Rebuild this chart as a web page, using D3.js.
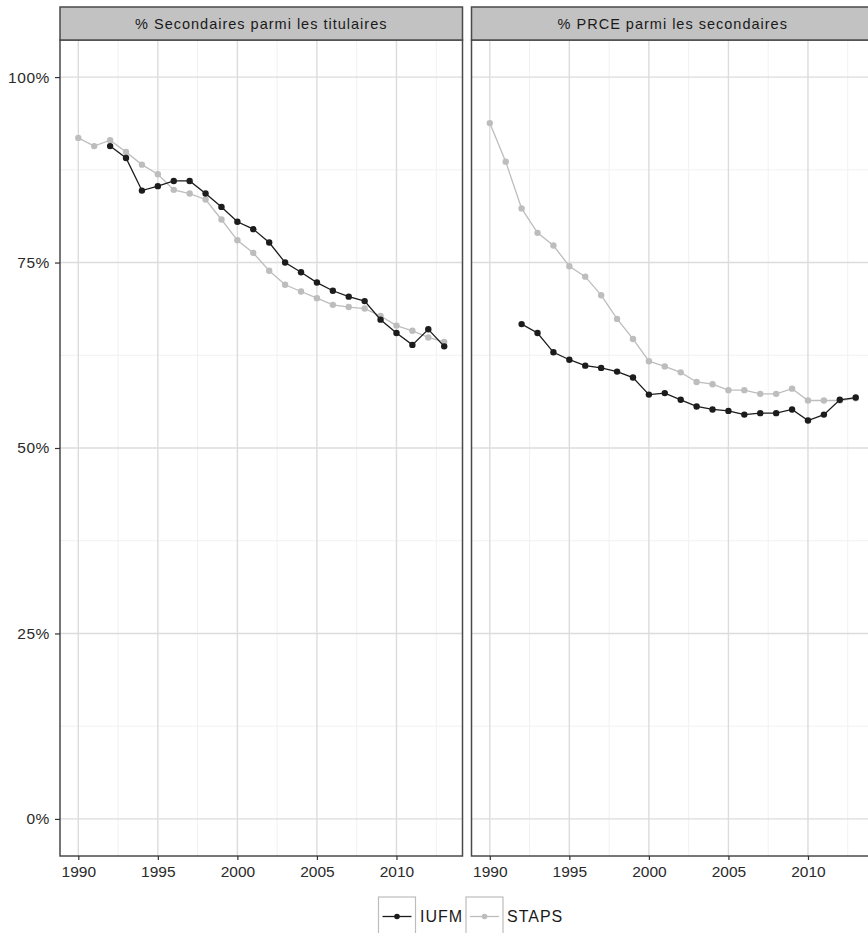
<!DOCTYPE html>
<html>
<head>
<meta charset="utf-8">
<script src="https://cdn.jsdelivr.net/npm/d3@7"></script>
<style>
  html, body { margin: 0; padding: 0; background: #fff; }
  svg { display: block; font-family: "Liberation Sans", Arial, sans-serif; }
</style>
</head>
<body>
<svg id="chart" width="868" height="933"></svg>
<script>
// Years covered by the series
const years = d3.range(1990, 2014);

// Panel titles
const panelTitles = ["% Secondaires parmi les titulaires", "% PRCE parmi les secondaires"];

// Series names
const seriesNames = ["IUFM", "STAPS"];

// Share of "secondaires" among tenured staff (1990..2013)
const secIUFM = [null, null, 0.907, 0.891, 0.847, 0.853, 0.860, 0.860, 0.843, 0.825, 0.805, 0.795,
                 0.777, 0.750, 0.737, 0.723, 0.712, 0.704, 0.698, 0.673, 0.655, 0.639, 0.660, 0.637];
const secSTAPS = [0.918, 0.907, 0.915, 0.899, 0.882, 0.869, 0.848, 0.843, 0.835, 0.808, 0.780, 0.763,
                  0.739, 0.720, 0.711, 0.702, 0.693, 0.690, 0.688, 0.678, 0.665, 0.658, 0.649, 0.643];

// Share of PRCE among "secondaires" (1990..2013)
const prceIUFM = [null, null, 0.667, 0.655, 0.629, 0.619, 0.611, 0.608, 0.603, 0.595, 0.572, 0.574,
                  0.565, 0.556, 0.552, 0.550, 0.545, 0.547, 0.547, 0.552, 0.537, 0.545, 0.565, 0.568];
const prceSTAPS = [0.938, 0.886, 0.823, 0.790, 0.773, 0.745, 0.731, 0.706, 0.674, 0.647, 0.617, 0.610,
                   0.602, 0.589, 0.586, 0.578, 0.578, 0.573, 0.573, 0.580, 0.564, 0.564, 0.564, 0.567];

// Axis ticks
const xTicks = [1990, 1995, 2000, 2005, 2010];
const xMinor = [1992.5, 1997.5, 2002.5, 2007.5, 2012.5];
const yTicks = [0, 0.25, 0.5, 0.75, 1];
const yMinor = [0.125, 0.375, 0.625, 0.875];

const colors = { IUFM: "#1c1c1c", STAPS: "#bdbdbd" };

const panels = [
  { title: panelTitles[0], series: { IUFM: secIUFM, STAPS: secSTAPS }, x0: 60, x1: 462.5 },
  { title: panelTitles[1], series: { IUFM: prceIUFM, STAPS: prceSTAPS }, x0: 471.5, x1: 874 }
];

const stripTop = 7, stripBottom = 40, panelBottom = 856;
const svg = d3.select("#chart");

const y = d3.scaleLinear().domain([-0.05, 1.05]).range([panelBottom, stripBottom]);
const fmtPct = d3.format(".0%");

panels.forEach((p, i) => {
  const x = d3.scaleLinear().domain([1988.85, 2014.15]).range([p.x0, p.x1]);
  const g = svg.append("g");

  // background
  g.append("rect").attr("x", p.x0).attr("y", stripBottom)
    .attr("width", p.x1 - p.x0).attr("height", panelBottom - stripBottom).attr("fill", "#fff");

  // minor grid
  g.selectAll(".xmin").data(xMinor).join("line")
    .attr("x1", d => x(d)).attr("x2", d => x(d))
    .attr("y1", stripBottom).attr("y2", panelBottom)
    .attr("stroke", "#f1f1f1").attr("stroke-width", 1);
  g.selectAll(".ymin").data(yMinor).join("line")
    .attr("x1", p.x0).attr("x2", p.x1)
    .attr("y1", d => y(d)).attr("y2", d => y(d))
    .attr("stroke", "#f1f1f1").attr("stroke-width", 1);

  // major grid
  g.selectAll(".xmaj").data(xTicks).join("line")
    .attr("x1", d => x(d)).attr("x2", d => x(d))
    .attr("y1", stripBottom).attr("y2", panelBottom)
    .attr("stroke", "#dcdcdc").attr("stroke-width", 1.4);
  g.selectAll(".ymaj").data(yTicks).join("line")
    .attr("x1", p.x0).attr("x2", p.x1)
    .attr("y1", d => y(d)).attr("y2", d => y(d))
    .attr("stroke", "#dcdcdc").attr("stroke-width", 1.4);

  // series: STAPS below, IUFM on top
  ["STAPS", "IUFM"].forEach(name => {
    const pts = years.map((yr, k) => ({ yr, v: p.series[name][k] })).filter(d => d.v != null);
    const line = d3.line().x(d => x(d.yr)).y(d => y(d.v));
    g.append("path").datum(pts).attr("d", line)
      .attr("fill", "none").attr("stroke", colors[name]).attr("stroke-width", 1.3);
    g.selectAll(null).data(pts).join("circle")
      .attr("cx", d => x(d.yr)).attr("cy", d => y(d.v)).attr("r", 3.2)
      .attr("fill", colors[name]);
  });

  // panel border
  g.append("rect").attr("x", p.x0).attr("y", stripBottom)
    .attr("width", p.x1 - p.x0).attr("height", panelBottom - stripBottom)
    .attr("fill", "none").attr("stroke", "#4a4a4a").attr("stroke-width", 1.5);

  // strip
  g.append("rect").attr("x", p.x0).attr("y", stripTop)
    .attr("width", p.x1 - p.x0).attr("height", stripBottom - stripTop)
    .attr("fill", "#c2c2c2").attr("stroke", "#4a4a4a").attr("stroke-width", 1.5);
  g.append("text").attr("x", (p.x0 + p.x1) / 2).attr("y", (stripTop + stripBottom) / 2)
    .attr("dy", "0.35em").attr("text-anchor", "middle")
    .attr("font-size", 14.5).attr("letter-spacing", 1).attr("fill", "#1a1a1a").text(p.title);

  // x axis
  const xAxis = d3.axisBottom(x).tickValues(xTicks).tickFormat(d3.format("d"))
    .tickSize(4).tickPadding(6);
  const ax = g.append("g").attr("transform", `translate(0,${panelBottom})`).call(xAxis);
  ax.select(".domain").remove();
  ax.selectAll(".tick line").attr("stroke", "#333").attr("stroke-width", 1.2);
  ax.selectAll(".tick text").attr("font-size", 15.5).attr("fill", "#2a2a2a")
    .attr("font-family", "Liberation Sans, Arial, sans-serif");

  if (i === 0) {
    const yAxis = d3.axisLeft(y).tickValues(yTicks).tickFormat(fmtPct).tickSize(5).tickPadding(5);
    const ay = g.append("g").attr("transform", `translate(${p.x0},0)`).call(yAxis);
    ay.select(".domain").remove();
    ay.selectAll(".tick line").attr("stroke", "#333").attr("stroke-width", 1.2);
    ay.selectAll(".tick text").attr("font-size", 15.5).attr("letter-spacing", 0.6).attr("fill", "#2a2a2a")
      .attr("font-family", "Liberation Sans, Arial, sans-serif");
  }
});

// legend
const legend = svg.append("g");
const keyW = 37, keyTop = 897;
const legendItems = [
  { name: seriesNames[0], kx: 378.5, tx: 420 },
  { name: seriesNames[1], kx: 466, tx: 507 }
];
legendItems.forEach(it => {
  legend.append("rect").attr("x", it.kx).attr("y", keyTop).attr("width", keyW).attr("height", 50)
    .attr("fill", "#fff").attr("stroke", "#bdbdbd").attr("stroke-width", 1.2);
  legend.append("line").attr("x1", it.kx + 4).attr("x2", it.kx + keyW - 4)
    .attr("y1", 916.5).attr("y2", 916.5).attr("stroke", colors[it.name]).attr("stroke-width", 1.3);
  legend.append("circle").attr("cx", it.kx + keyW / 2).attr("cy", 916.5).attr("r", 2.8)
    .attr("fill", colors[it.name]);
  legend.append("text").attr("x", it.tx).attr("y", 916.5).attr("dy", "0.35em")
    .attr("font-size", 16).attr("letter-spacing", 1).attr("fill", "#1a1a1a").text(it.name);
});
</script>
</body>
</html>
